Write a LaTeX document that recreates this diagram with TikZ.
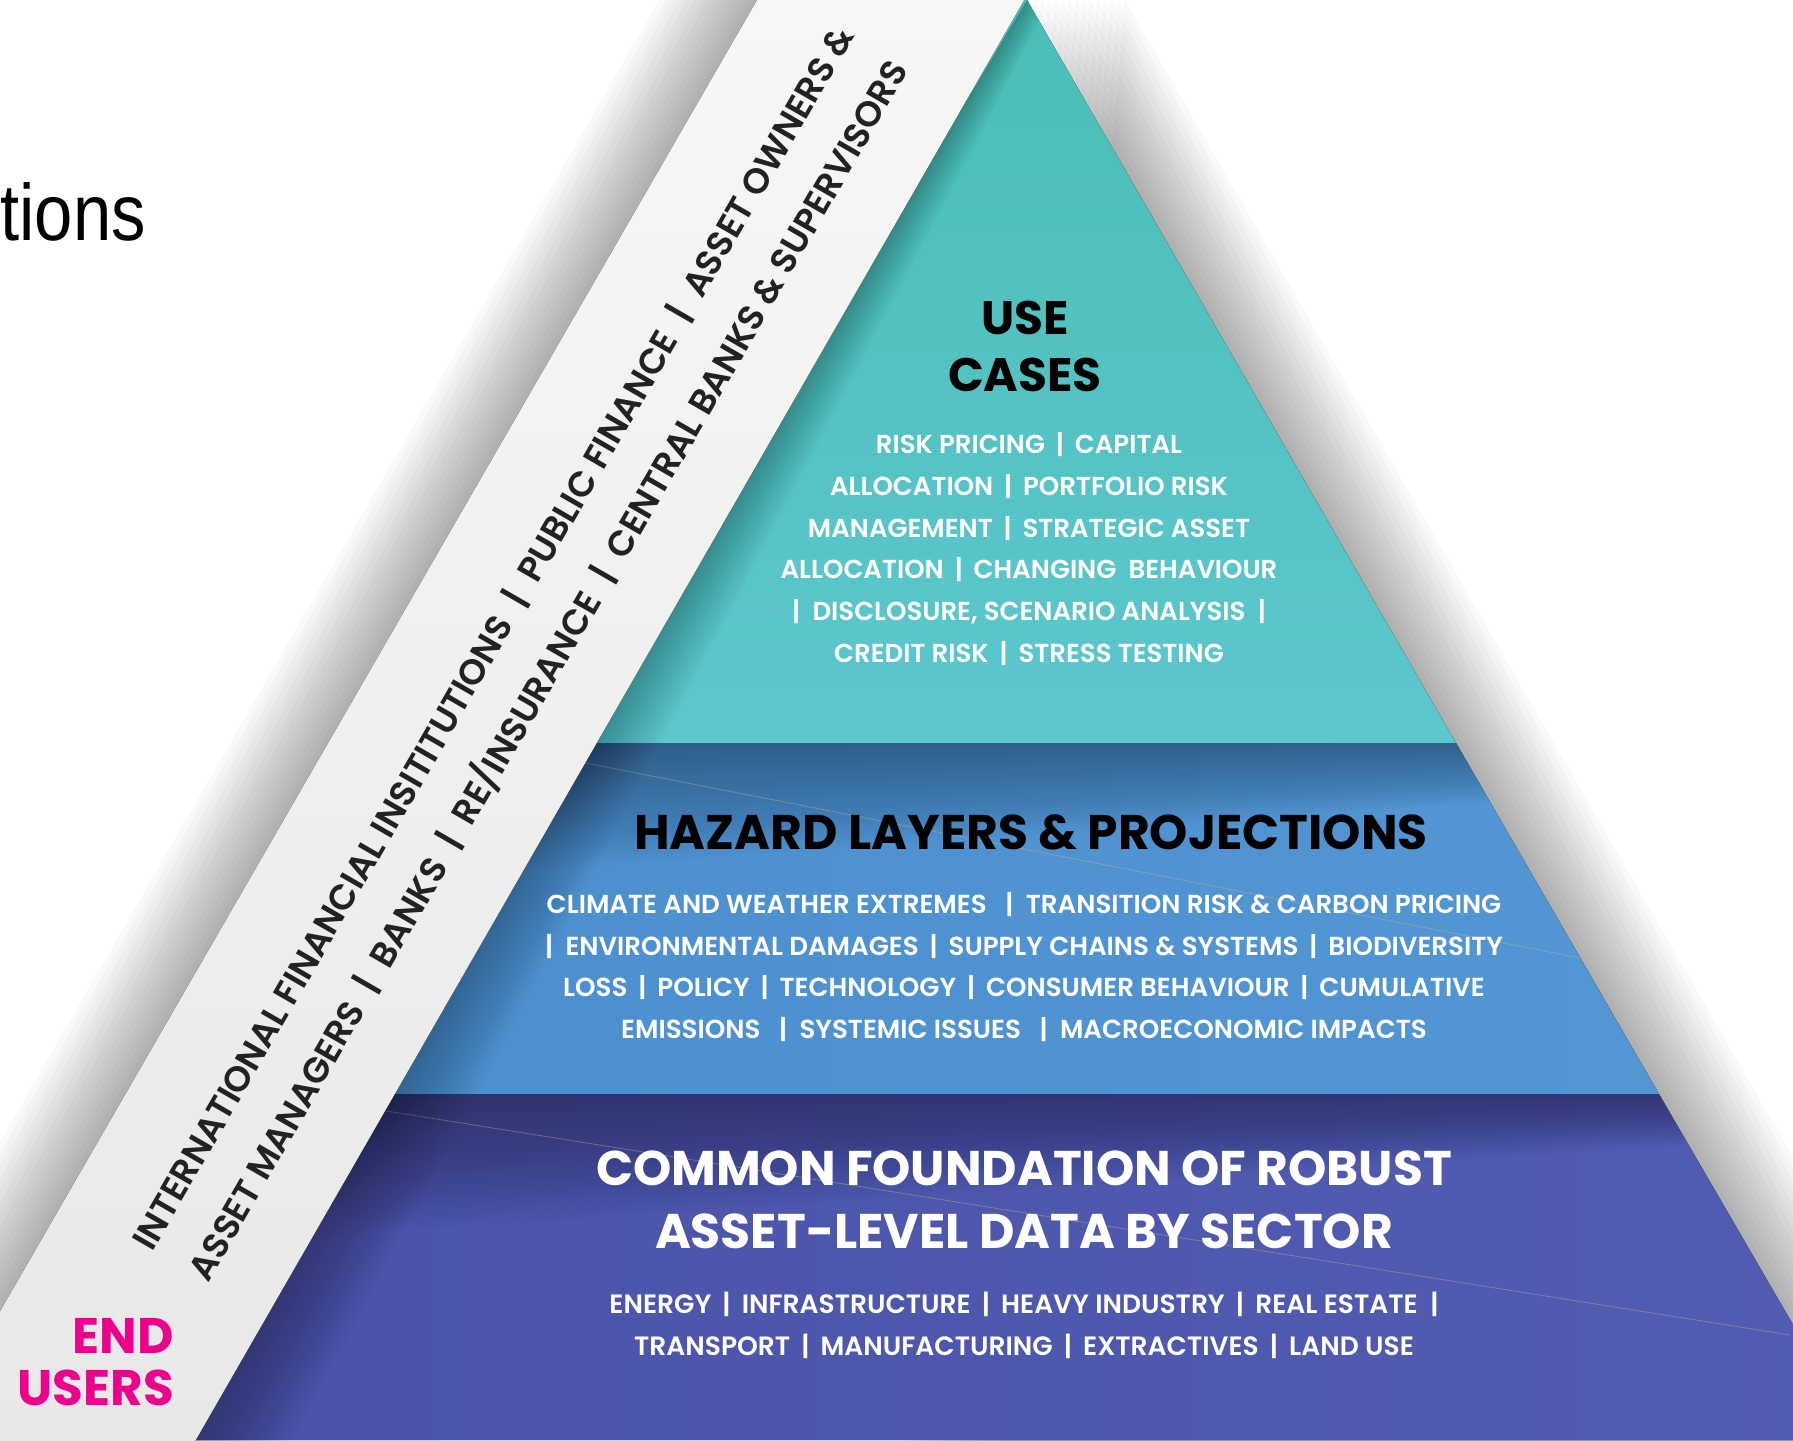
\documentclass[tikz,border=0pt]{standalone}
\usepackage{fontspec}
\setmainfont{Poppins}
\newfontfamily\popsb{Poppins SemiBold}
\newfontfamily\popb{Poppins Bold}
\newfontfamily\arialf{Liberation Sans}
\usetikzlibrary{calc}
\definecolor{tealA}{RGB}{74,190,182}
\definecolor{tealB}{RGB}{92,199,206}
\definecolor{blueBase}{RGB}{76,143,206}
\definecolor{blueRight}{RGB}{82,150,212}
\definecolor{purpBase}{RGB}{74,83,168}
\definecolor{purpRight}{RGB}{82,92,178}
\definecolor{bandTop}{RGB}{247,247,245}
\definecolor{bandBot}{RGB}{232,232,230}
\definecolor{bandInk}{RGB}{34,34,34}
\definecolor{endMag}{RGB}{236,0,140}
\definecolor{glint}{RGB}{205,185,130}
\newcommand\sepb{\hspace{0.42em}|\hspace{0.42em}}
\newcommand\bsep{\hspace{0.5em}|\hspace{0.5em}}
\tikzset{
  ucitem/.style={text=white, align=center, font=\popsb\fontsize{26}{41.7}\selectfont},
  hzitem/.style={text=white, align=center, font=\popsb\fontsize{26.1}{41.8}\selectfont},
  fditem/.style={text=white, align=center, font=\popsb\fontsize{26.5}{42}\selectfont},
  bigtitle/.style={align=center, font=\popb\fontsize{48.7}{63}\selectfont},
  bandtxt/.style={rotate=60, text=bandInk, font=\popsb\fontsize{35.4}{35.4}\selectfont, inner sep=0pt},
  shadowcopy/.style={black, opacity=0.024},
}
\begin{document}
\begin{tikzpicture}[x=1pt,y=-1pt]
\useasboundingbox (0,0) rectangle (1793,1440);
\fill[white] (0,0) rectangle (1793,1440);

% outer shadow right of pyramid
\foreach \k in {1,...,14}{
  \fill[shadowcopy, xshift=\k*7pt] (1027,0) -- (1870,1460) -- (900,1460) -- cycle;
}
% outer shadow left of band
\foreach \k in {1,...,14}{
  \fill[shadowcopy, xshift=-\k*7pt] (760,-5) -- (1027,-5) -- (190,1450) -- (-80,1450) -- cycle;
}

% layers
\fill[top color=tealA, bottom color=tealB] (1027,0) -- (1456,743) -- (560,743) -- (990,0) -- cycle;
\fill[left color=blueBase, right color=blueRight] (1456,743) -- (1659,1094) -- (360,1094) -- (560,743) -- cycle;
\fill[left color=purpBase, right color=purpRight] (1659,1094) -- (1860,1440) -- (150,1440) -- (360,1094) -- cycle;

% overlays inside pyramid
\begin{scope}
  \clip (1027,0) -- (1870,1460) -- (150,1460) -- cycle;
  % top darkening of blue and purple layers (deeper on the left)
  \foreach \k in {1,...,22}{
    \fill[black, opacity=0.014] (300,743) -- (1700,743) -- (1700,743+\k*2) -- (300,743+\k*6.5) -- cycle;
    \fill[black, opacity=0.014] (300,1094) -- (1800,1094) -- (1800,1094+\k*2) -- (300,1094+\k*6.5) -- cycle;
  }
  % faint glints
  \draw[glint, opacity=0.4, line width=0.8pt] (560,758) -- (1580,958);
  \draw[glint, opacity=0.4, line width=0.8pt] (380,1110) -- (1790,1335);
  % shadow of band onto layers (widening downwards)
  \foreach \k in {1,...,18}{
    \fill[black, opacity=0.017] (760,-5) -- (1027+\k*1.5,-5) -- (190+\k*5.5,1450) -- (-80,1450) -- cycle;
  }
\end{scope}

% band
\fill[top color=bandTop, bottom color=bandBot] (760,-5) -- (1027,-5) -- (190,1450) -- (-80,1450) -- cycle;

% partial title text
\node[anchor=base east, font=\arialf\fontsize{80}{80}\selectfont, xscale=0.86, inner sep=0pt] (tions) at (146,240) {tions};

% band text
\node[bandtxt] (band1) at (493,638) {INTERNATIONAL FINANCIAL INSITITUTIONS\bsep PUBLIC FINANCE\bsep ASSET OWNERS \&};
\node[bandtxt] (band2) at (547,670) {ASSET MANAGERS\bsep BANKS\bsep RE/INSURANCE\bsep CENTRAL BANKS \& SUPERVISORS};

% end users
\node[anchor=east, align=right, text=endMag, font=\popb\fontsize{50}{52}\selectfont, inner sep=0pt] (endusers) at (174,1362) {END\\USERS};

% use cases
\node[font=\popb\fontsize{47}{57}\selectfont, align=center, text=black] (uctitle) at (1025,346) {USE\\CASES};
\node[ucitem] (ucitems) at (1029,549) {RISK PRICING\sepb CAPITAL\\ALLOCATION\sepb PORTFOLIO RISK\\MANAGEMENT\sepb STRATEGIC ASSET\\ALLOCATION\sepb CHANGING\ \ BEHAVIOUR\\|\ \ DISCLOSURE, SCENARIO ANALYSIS\ \ |\\CREDIT RISK\sepb STRESS TESTING};

% hazard layers
\node[bigtitle, text=black] (hztitle) at (1031,832) {HAZARD LAYERS \& PROJECTIONS};
\node[hzitem] (hzitems) at (1024,967) {CLIMATE AND WEATHER EXTREMES\ \ \ |\ \ TRANSITION RISK \& CARBON PRICING\\|\ \ ENVIRONMENTAL DAMAGES\sepb SUPPLY CHAINS \& SYSTEMS\sepb BIODIVERSITY\\LOSS\sepb POLICY\sepb TECHNOLOGY\sepb CONSUMER BEHAVIOUR\sepb CUMULATIVE\\EMISSIONS\ \ \ |\ \ SYSTEMIC ISSUES\ \ \ |\ \ MACROECONOMIC IMPACTS};

% foundation
\node[bigtitle, text=white] (fdtitle) at (1024,1200) {COMMON FOUNDATION OF ROBUST\\ASSET-LEVEL DATA BY SECTOR};
\node[fditem] (fditems) at (1024,1325) {ENERGY\sepb INFRASTRUCTURE\sepb HEAVY INDUSTRY\sepb REAL ESTATE\ \ |\\TRANSPORT\sepb MANUFACTURING\sepb EXTRACTIVES\sepb LAND USE};
\end{tikzpicture}
\end{document}
